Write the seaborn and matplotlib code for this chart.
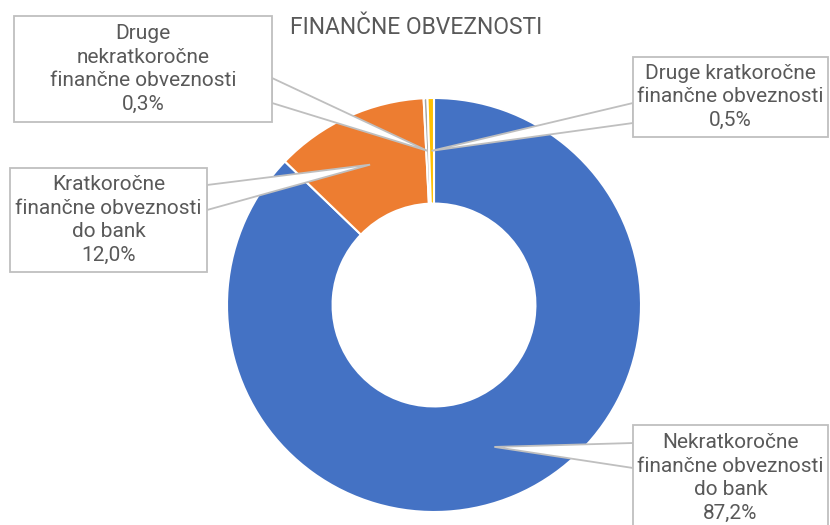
import numpy as np
import matplotlib
matplotlib.use("Agg")
import matplotlib.pyplot as plt
from matplotlib.patches import Polygon, Rectangle
import seaborn as sns

sns.set_theme(style="white")
plt.rcParams['font.family'] = ['Roboto', 'DejaVu Sans']

title = "FINANČNE OBVEZNOSTI"
categories = ["Nekratkoročne\nfinančne obveznosti\ndo bank",
              "Kratkoročne\nfinančne obveznosti\ndo bank",
              "Druge\nnekratkoročne\nfinančne obveznosti",
              "Druge kratkoročne\nfinančne obveznosti"]
values = [87.2, 12.0, 0.3, 0.5]
colors = ["#4472C4", "#ED7D31", "#A5A5A5", "#FFC000"]

W, H = 830, 525
fig = plt.figure(figsize=(W / 100, H / 100), dpi=100)
ax = fig.add_axes([0, 0, 1, 1])
ax.set_xlim(0, W)
ax.set_ylim(H, 0)
ax.axis("off")

# pie axes placed in pixel space
cx, cy, R = 434, 305, 207
pax = fig.add_axes([(cx - R) / W, (H - cy - R) / H, 2 * R / W, 2 * R / H])
wedges, _ = pax.pie(values, colors=colors, startangle=90, counterclock=False,
                    radius=1.0,
                    wedgeprops=dict(width=0.51, edgecolor="white", linewidth=1.5))
pax.set_xlim(-1, 1)
pax.set_ylim(-1, 1)
pax.set_aspect("equal")
pax.axis("off")

# overlay axes for callouts drawn above pie
oax = fig.add_axes([0, 0, 1, 1])
oax.set_xlim(0, W)
oax.set_ylim(H, 0)
oax.axis("off")
oax.patch.set_alpha(0)

# leader tip: middle of ring at slice mid-angle
cum = np.cumsum([0] + values)
tot = cum[-1]
rmid = R * (1 - 0.51 / 2)
tips = []
for i in range(len(values)):
    frac = (cum[i] + cum[i + 1]) / 2 / tot
    ang = 2 * np.pi * frac
    tips.append((cx + rmid * np.sin(ang), cy - rmid * np.cos(ang)))

gray = "#BFBFBF"
txtc = "#595959"
# boxes: (x0, y0, x1, y1), leader side, leader y range
boxes = [
    ((633, 425, 828, 530), "left", (443, 468)),
    ((10, 168, 207, 272), "right", (185, 210)),
    ((14, 16, 272, 122), "right", (78, 103)),
    ((633, 57, 828, 137), "left", (103, 123)),
]
for i, (b, side, (ya, yb)) in enumerate(boxes):
    x0, y0, x1, y1 = b
    bx = x0 if side == "left" else x1
    tx, ty = tips[i]
    oax.add_patch(Polygon([(bx, ya), (tx, ty), (bx, yb)], closed=True,
                          facecolor="white", edgecolor=gray, linewidth=1.3,
                          zorder=2))
    oax.add_patch(Rectangle((x0, y0), x1 - x0, y1 - y0, facecolor="white",
                            edgecolor=gray, linewidth=1.3, zorder=3))
    label = categories[i] + "\n" + f"{values[i]:.1f}".replace(".", ",") + "%"
    oax.text((x0 + x1) / 2, (y0 + min(y1, H)) / 2 + (0 if y1 < H else 3), label,
             ha="center", va="center", fontsize=15, color=txtc,
             linespacing=1.3, zorder=4)

oax.text(416, 28, title, ha="center", va="center", fontsize=16.5,
         color=txtc, zorder=4)

fig.savefig("out.png", dpi=100)
